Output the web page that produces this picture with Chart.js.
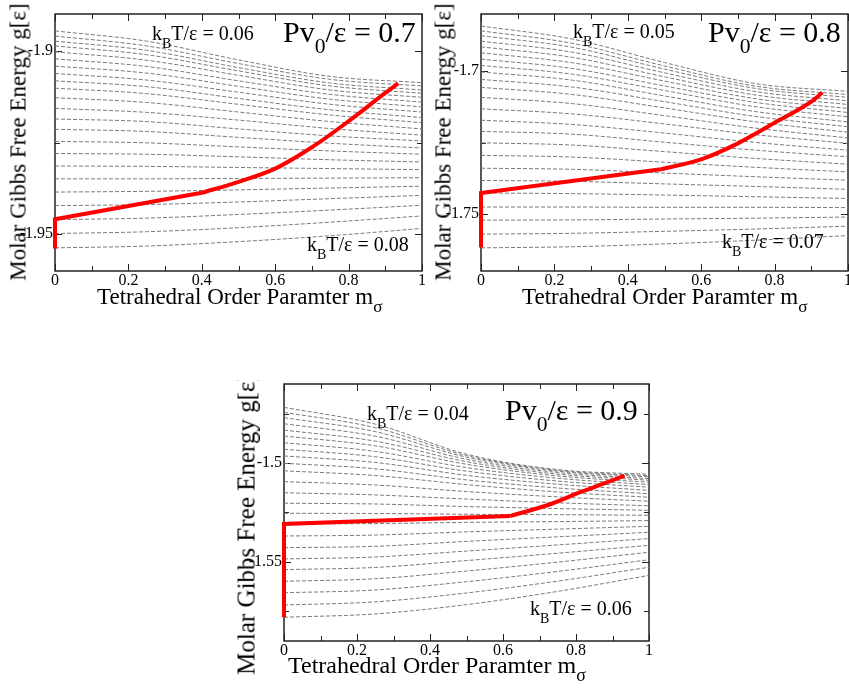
<!DOCTYPE html>
<html>
<head>
<meta charset="utf-8">
<script src="https://cdn.jsdelivr.net/npm/chart.js@4.4.1/dist/chart.umd.min.js"></script>
<style>
  body { margin: 0; background: #fff; width: 849px; height: 688px; overflow: hidden; position: relative;
         font-family: "Liberation Serif", "Times New Roman", serif; }
  .panel { position: absolute; overflow: hidden; }
  .panel canvas { position: absolute; left: 0; top: 0; }
  .txt { position: absolute; white-space: nowrap; line-height: 1; color: #000; }
  .ylab { transform: translate(-50%, -50%) rotate(-90deg); font-size: 23px; }
  .xlab { font-size: 23px; }
  .kt { font-size: 20px; }
  .pv { font-size: 30px; }
  .sb { font-size: 70%; position: relative; top: 0.6em; }
  .s0 { font-size: 72%; position: relative; top: 0.5em; }
  .ss { font-size: 75%; position: relative; top: 0.45em; }
</style>
</head>
<body>

<div class="panel" id="p1" style="left:0;top:0;width:430px;height:320px">
  <canvas id="c1" width="430" height="320"></canvas>
  <div class="txt kt" style="left:152px;top:23px">k<span class="sb">B</span>T/ε = 0.06</div>
  <div class="txt pv" style="left:283px;top:17px">Pv<span class="s0">0</span>/ε = 0.7</div>
  <div class="txt kt" style="left:307px;top:234px">k<span class="sb">B</span>T/ε = 0.08</div>
  <div class="txt xlab" style="left:97px;top:285px">Tetrahedral Order Paramter m<span class="ss">σ</span></div>
  <div class="txt ylab" style="left:18px;top:142px">Molar Gibbs Free Energy g[ε]</div>
</div>

<div class="panel" id="p2" style="left:426px;top:0;width:423px;height:320px">
  <canvas id="c2" width="423" height="320"></canvas>
  <div class="txt kt" style="left:147px;top:21px">k<span class="sb">B</span>T/ε = 0.05</div>
  <div class="txt pv" style="left:282px;top:17px">Pv<span class="s0">0</span>/ε = 0.8</div>
  <div class="txt kt" style="left:296px;top:231px">k<span class="sb">B</span>T/ε = 0.07</div>
  <div class="txt xlab" style="left:96px;top:285px">Tetrahedral Order Paramter m<span class="ss">σ</span></div>
  <div class="txt ylab" style="left:17px;top:142px">Molar Gibbs Free Energy g[ε]</div>
</div>

<div class="panel" id="p3" style="left:229px;top:380px;width:430px;height:308px">
  <canvas id="c3" width="430" height="308"></canvas>
  <div class="txt kt" style="left:138px;top:23px">k<span class="sb">B</span>T/ε = 0.04</div>
  <div class="txt pv" style="left:276px;top:15px">Pv<span class="s0">0</span>/ε = 0.9</div>
  <div class="txt kt" style="left:301px;top:218px">k<span class="sb">B</span>T/ε = 0.06</div>
  <div class="txt xlab" style="left:59px;top:273px;font-size:24px">Tetrahedral Order Paramter m<span class="ss">σ</span></div>
  <div class="txt ylab" style="left:17px;top:144px;font-size:25px">Molar Gibbs Free Energy g[ε]</div>
</div>

<script>
const mGrid = [0, 0.25, 0.5, 0.75, 1];
const xTicks = [0, 0.1, 0.2, 0.3, 0.4, 0.5, 0.6, 0.7, 0.8, 0.9, 1];

// Pv0/eps = 0.7, kT from 0.06 (top) to 0.08 (bottom)
const p1Curves = [
  [-1.8946, -1.8974, -1.9025, -1.9070, -1.9087],
  [-1.8960, -1.8987, -1.9035, -1.9078, -1.9096],
  [-1.8974, -1.8999, -1.9046, -1.9088, -1.9107],
  [-1.8987, -1.9011, -1.9055, -1.9096, -1.9116],
  [-1.9003, -1.9026, -1.9067, -1.9107, -1.9127],
  [-1.9022, -1.9043, -1.9082, -1.9119, -1.9140],
  [-1.9042, -1.9061, -1.9097, -1.9132, -1.9153],
  [-1.9062, -1.9080, -1.9113, -1.9146, -1.9167],
  [-1.9082, -1.9098, -1.9130, -1.9161, -1.9182],
  [-1.9102, -1.9117, -1.9146, -1.9175, -1.9196],
  [-1.9128, -1.9141, -1.9167, -1.9193, -1.9213],
  [-1.9157, -1.9168, -1.9189, -1.9212, -1.9230],
  [-1.9186, -1.9193, -1.9213, -1.9232, -1.9246],
  [-1.9214, -1.9220, -1.9236, -1.9252, -1.9265],
  [-1.9247, -1.9251, -1.9262, -1.9273, -1.9282],
  [-1.9280, -1.9282, -1.9289, -1.9297, -1.9303],
  [-1.9314, -1.9315, -1.9318, -1.9321, -1.9324],
  [-1.9349, -1.9349, -1.9348, -1.9347, -1.9346],
  [-1.9385, -1.9383, -1.9379, -1.9374, -1.9369],
  [-1.9422, -1.9419, -1.9412, -1.9403, -1.9394],
  [-1.9460, -1.9456, -1.9446, -1.9434, -1.9421],
  [-1.9498, -1.9493, -1.9482, -1.9467, -1.9450],
  [-1.9537, -1.9532, -1.9520, -1.9504, -1.9484]
];
const p1RedM = [0, 0, 0.4, 0.5, 0.6, 0.7, 0.8, 0.9, 0.935];
const p1RedG = [-1.9539, -1.9459, -1.9387, -1.9357, -1.9321, -1.9263, -1.9192, -1.9115, -1.9089];
const p1YTicks = [-1.95, -1.925, -1.9];

// Pv0/eps = 0.8, kT from 0.05 (top) to 0.07 (bottom)
const p2Curves = [
  [-1.6842, -1.6888, -1.6970, -1.7044, -1.7071],
  [-1.6859, -1.6903, -1.6982, -1.7053, -1.7082],
  [-1.6876, -1.6917, -1.6993, -1.7061, -1.7092],
  [-1.6895, -1.6934, -1.7006, -1.7072, -1.7104],
  [-1.6915, -1.6952, -1.7020, -1.7084, -1.7117],
  [-1.6936, -1.6971, -1.7035, -1.7097, -1.7131],
  [-1.6958, -1.6991, -1.7052, -1.7110, -1.7145],
  [-1.6980, -1.7011, -1.7068, -1.7125, -1.7160],
  [-1.7003, -1.7032, -1.7087, -1.7142, -1.7178],
  [-1.7029, -1.7056, -1.7107, -1.7159, -1.7195],
  [-1.7057, -1.7082, -1.7129, -1.7178, -1.7214],
  [-1.7092, -1.7114, -1.7156, -1.7200, -1.7234],
  [-1.7132, -1.7150, -1.7185, -1.7223, -1.7253],
  [-1.7172, -1.7187, -1.7217, -1.7250, -1.7277],
  [-1.7211, -1.7221, -1.7249, -1.7277, -1.7300],
  [-1.7251, -1.7259, -1.7282, -1.7306, -1.7326],
  [-1.7295, -1.7301, -1.7319, -1.7337, -1.7353],
  [-1.7340, -1.7344, -1.7357, -1.7370, -1.7382],
  [-1.7383, -1.7386, -1.7395, -1.7404, -1.7414],
  [-1.7427, -1.7429, -1.7434, -1.7440, -1.7446],
  [-1.7476, -1.7476, -1.7477, -1.7477, -1.7478],
  [-1.7522, -1.7521, -1.7518, -1.7515, -1.7511],
  [-1.7571, -1.7568, -1.7561, -1.7553, -1.7543],
  [-1.7619, -1.7615, -1.7605, -1.7592, -1.7576]
];
const p2RedM = [0, 0, 0.49, 0.6, 0.7, 0.8, 0.9, 0.93];
const p2RedG = [-1.7618, -1.7427, -1.7344, -1.7309, -1.7253, -1.7181, -1.7107, -1.7075];
const p2YTicks = [-1.75, -1.725, -1.7];

// Pv0/eps = 0.9, kT from 0.04 (top) to 0.06 (bottom)
const p3Curves = [
  [-1.4718, -1.4803, -1.4955, -1.5033, -1.5057],
  [-1.4743, -1.4821, -1.4962, -1.5037, -1.5064],
  [-1.4770, -1.4841, -1.4970, -1.5041, -1.5070],
  [-1.4801, -1.4864, -1.4981, -1.5048, -1.5079],
  [-1.4833, -1.4889, -1.4993, -1.5056, -1.5087],
  [-1.4863, -1.4913, -1.5006, -1.5065, -1.5097],
  [-1.4897, -1.4941, -1.5023, -1.5077, -1.5109],
  [-1.4930, -1.4968, -1.5041, -1.5091, -1.5122],
  [-1.4964, -1.4997, -1.5062, -1.5107, -1.5138],
  [-1.5001, -1.5029, -1.5085, -1.5126, -1.5155],
  [-1.5039, -1.5063, -1.5109, -1.5146, -1.5173],
  [-1.5094, -1.5111, -1.5144, -1.5171, -1.5193],
  [-1.5150, -1.5161, -1.5182, -1.5201, -1.5216],
  [-1.5203, -1.5207, -1.5220, -1.5230, -1.5239],
  [-1.5254, -1.5255, -1.5259, -1.5261, -1.5264],
  [-1.5308, -1.5306, -1.5300, -1.5296, -1.5291],
  [-1.5369, -1.5364, -1.5348, -1.5334, -1.5320],
  [-1.5428, -1.5421, -1.5396, -1.5373, -1.5350],
  [-1.5485, -1.5475, -1.5445, -1.5414, -1.5382],
  [-1.5539, -1.5528, -1.5493, -1.5456, -1.5416],
  [-1.5598, -1.5585, -1.5546, -1.5501, -1.5451],
  [-1.5656, -1.5642, -1.5600, -1.5548, -1.5489],
  [-1.5718, -1.5702, -1.5657, -1.5597, -1.5527],
  [-1.5780, -1.5763, -1.5716, -1.5649, -1.5568]
];
const p3RedM = [0, 0, 0.62, 0.723, 0.815, 0.879, 0.933];
const p3RedG = [-1.5780, -1.5308, -1.5268, -1.5212, -1.5145, -1.5102, -1.5064];
const p3YTicks = [-1.575, -1.55, -1.525, -1.5, -1.475];

const FONT = '"Liberation Serif", "Times New Roman", serif';

function isMult(v, step) {
  const r = v / step;
  return Math.abs(r - Math.round(r)) < 1e-6;
}

// xmgrace style box with inward ticks on all four sides
const boxTicks = {
  id: 'boxTicks',
  beforeDatasetsDraw(chart) {
    const { ctx, chartArea: a, scales: { x, y } } = chart;
    ctx.save();
    ctx.strokeStyle = '#222';
    ctx.lineWidth = 1;
    ctx.beginPath();
    x.ticks.forEach(t => {
      const px = Math.round(x.getPixelForValue(t.value)) + 0.5;
      const len = isMult(t.value, 0.2) ? 7 : 5;
      ctx.moveTo(px, a.bottom); ctx.lineTo(px, a.bottom - len);
      ctx.moveTo(px, a.top); ctx.lineTo(px, a.top + len);
    });
    y.ticks.forEach(t => {
      const py = Math.round(y.getPixelForValue(t.value)) + 0.5;
      const len = isMult(t.value, 0.05) ? 7 : 5;
      ctx.moveTo(a.left, py); ctx.lineTo(a.left + len, py);
      ctx.moveTo(a.right, py); ctx.lineTo(a.right - len, py);
    });
    ctx.stroke();
    ctx.lineWidth = 1.5;
    ctx.strokeRect(a.left, a.top, a.right - a.left, a.bottom - a.top);
    ctx.restore();
  }
};

function makePanel(id, curves, redM, redG, yMin, yMax, yTicks, padTop, padRight, xHeight) {
  const red = redM.map((m, i) => ({ x: m, y: redG[i] }));
  const datasets = [
    { data: red.slice(0, 3), borderColor: '#ff0000', borderWidth: 4, pointRadius: 0, tension: 0, clip: false },
    { data: red.slice(2), borderColor: '#ff0000', borderWidth: 4, pointRadius: 0,
      cubicInterpolationMode: 'monotone', clip: false }
  ];
  curves.forEach(c => {
    datasets.push({
      data: mGrid.map((m, i) => ({ x: m, y: c[i] })),
      borderColor: '#7a7a7a', borderWidth: 1, borderDash: [4, 2],
      pointRadius: 0, cubicInterpolationMode: 'monotone'
    });
  });

  new Chart(document.getElementById(id), {
    type: 'line',
    data: { datasets },
    options: {
      responsive: false,
      animation: false,
      devicePixelRatio: 1,
      layout: { padding: { top: padTop, right: padRight, left: 0, bottom: 0 } },
      plugins: { legend: { display: false }, tooltip: { enabled: false } },
      scales: {
        x: {
          type: 'linear', min: 0, max: 1,
          afterBuildTicks: s => { s.ticks = xTicks.map(v => ({ value: v })); },
          afterFit: s => { s.height = xHeight; s.paddingLeft = 0; s.paddingRight = 0; },
          grid: { display: false, drawTicks: false },
          border: { display: false },
          ticks: {
            padding: 0, color: '#000', autoSkip: false, maxRotation: 0,
            font: { family: FONT, size: 16 },
            callback: v => isMult(v, 0.2) ? String(Math.round(v * 10) / 10) : ''
          }
        },
        y: {
          type: 'linear', min: yMin, max: yMax,
          afterBuildTicks: s => { s.ticks = yTicks.map(v => ({ value: v })); },
          afterFit: s => { s.width = 55; s.paddingTop = 0; s.paddingBottom = 0; },
          grid: { display: false, drawTicks: false },
          border: { display: false },
          ticks: {
            padding: 2, color: '#000', autoSkip: false,
            font: { family: FONT, size: 16 },
            callback: v => isMult(v, 0.05) ? String(Math.round(v * 100) / 100) : ''
          }
        }
      }
    },
    plugins: [boxTicks]
  });
}

function drawAll() {
  makePanel('c1', p1Curves, p1RedM, p1RedG, -1.96, -1.89, p1YTicks, 14, 8, 49);
  makePanel('c2', p2Curves, p2RedM, p2RedG, -1.77, -1.68, p2YTicks, 14, 1, 49);
  makePanel('c3', p3Curves, p3RedM, p3RedG, -1.59, -1.46, p3YTicks, 4, 10, 47);
}

document.fonts.load('16px "Liberation Serif"').then(drawAll, drawAll);
</script>
</body>
</html>
